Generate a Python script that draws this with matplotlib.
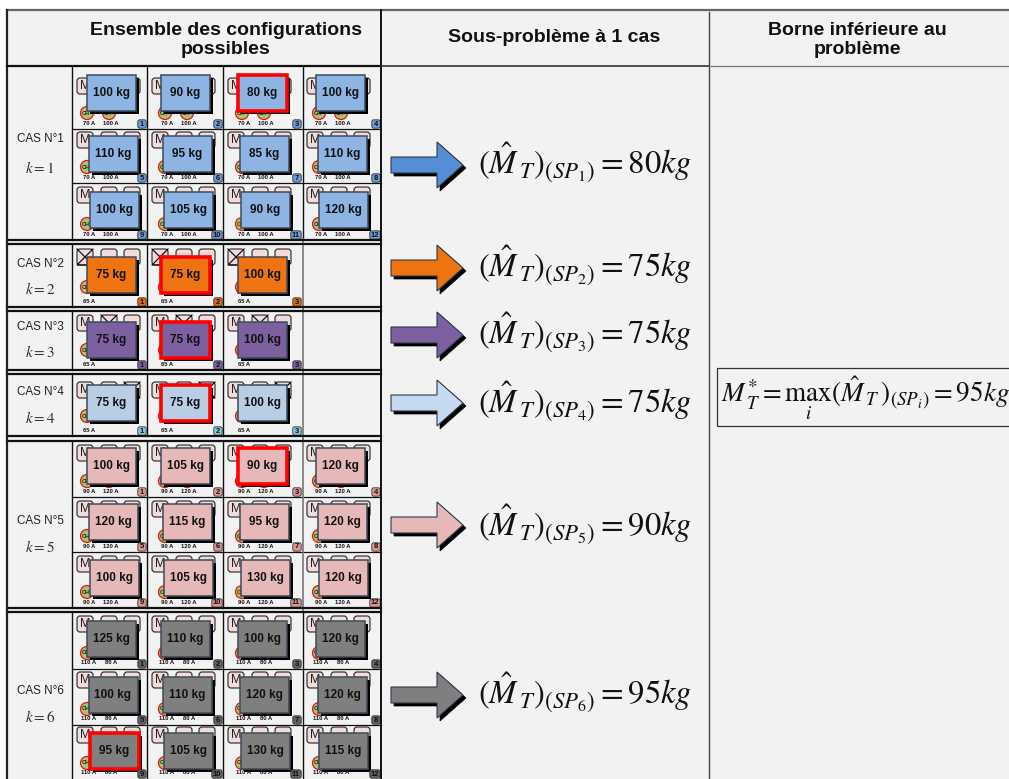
import matplotlib
matplotlib.use("Agg")
import matplotlib.pyplot as plt
from matplotlib.patches import Rectangle, FancyBboxPatch, Circle, Polygon

plt.rcParams['font.family'] = ['Liberation Sans', 'DejaVu Sans']
plt.rcParams['mathtext.fontset'] = 'stix'

# ---- data
case_names = ["CAS N°1", "CAS N°2", "CAS N°3", "CAS N°4", "CAS N°5", "CAS N°6"]
case_k = [1, 2, 3, 4, 5, 6]
weights_1 = [100, 90, 80, 100, 110, 95, 85, 110, 100, 105, 90, 120]
weights_2 = [75, 75, 100]
weights_3 = [75, 75, 100]
weights_4 = [75, 75, 100]
weights_5 = [100, 105, 90, 120, 120, 115, 95, 120, 100, 105, 130, 120]
weights_6 = [125, 110, 100, 120, 100, 110, 120, 120, 95, 105, 130, 115]
all_weights = [weights_1, weights_2, weights_3, weights_4, weights_5, weights_6]
currents = [("70 A", "100 A"), ("65 A",), ("65 A",), ("65 A",), ("90 A", "120 A"), ("110 A", "80 A")]
best_cell = [3, 2, 2, 2, 3, 9]
crossed_motor = [None, 0, 1, 2, None, None]
bounds = [80, 75, 75, 75, 90, 95]
lower_bound = 95
headers = ["Ensemble des configurations\npossibles", "Sous-problème à 1 cas", "Borne inférieure au\nproblème"]

# ---- styles / layout
box_col = ['#8EB4E3', '#ED7410', '#7D60A0', '#B9CDE5', '#E6B9B8', '#7F7F7F']
arrow_col = ['#558ED5', '#ED7410', '#7D60A0', '#C6D9F1', '#E6B9B8', '#7F7F7F']
badge_col = ['#6F9BD8', '#E46C0A', '#7D60A0', '#8CC6DC', '#D99694', '#636363']
row_edges = [[67, 129, 183, 240], [244, 307], [311, 370], [374, 436], [441, 497, 552, 608], [612, 669, 725, 779]]
row_box_offset = [[18, 11, 12], [14], [12], [15], [13, 12, 12], [12, 12, 10]]
motor_offset = [[3, -4, -5], [-8], [-7], [-3], [-3, -3, -4], [-5, -5, -6]]
col_x = [72, 147, 223, 302, 381]
col_dx = [15, 14, 15, 14]
circle_dx = [15, 18, 19, 17]
case_label_y = [(139, 168), (264, 289), (327, 352), (392, 418), (521, 547), (691, 717)]
arrow_y = [165, 268, 335, 403, 525, 695]
eq_y = [163, 266, 333, 402, 525, 693]

fig = plt.figure(figsize=(10.09, 7.79), dpi=100, facecolor='white')
ax = fig.add_axes([0, 0, 1, 1])
ax.set_xlim(0, 1009)
ax.set_ylim(779, 0)
ax.axis('off')

ax.add_patch(Rectangle((7, 10), 1002, 769, fc='#F2F2F2', ec='none', zorder=0))


def draw_cell(x0, y0, x1, y1, weight, number, case, cur, red, col, box_off, mot_off, col_idx, row_idx):
    dx = col_dx[col_idx] + 1.5 * row_idx
    bw, bh = 49, 36
    bx, by = x0 + dx, y1 - box_off - bh
    # motors
    for m, mx in enumerate((5, 29, 52)):
        my = by + mot_off
        ax.add_patch(FancyBboxPatch((x0 + mx + 1.5, my + 1.5), 13, 13, boxstyle="round,pad=1.5,rounding_size=3",
                                    fc='#F2DCDB', ec='#222222', lw=0.8, zorder=2))
        if m == crossed_motor[case]:
            ax.plot([x0 + mx, x0 + mx + 16, x0 + mx, x0 + mx + 16], [my, my + 16, my + 16, my],
                    color='#111111', lw=0.9, zorder=2.1)
        elif m == 0:
            ax.text(x0 + mx + 8, my + 8, "M", fontsize=9, ha='center', va='center', color='#222222', zorder=2.2)
    # converters
    cdx = circle_dx[col_idx]
    cy = y1 - 16 if len(cur) == 2 else y1 - 20
    for c in range(len(cur)):
        cx = x0 + cdx + 22 * c
        ax.add_patch(Circle((cx, cy), 6.5, fc='#A9C46E', ec='#EE1111', lw=0.9, zorder=2))
        ax.text(cx - 1, cy, "CH", fontsize=4, fontweight='bold', ha='center', va='center',
                color='#222222', zorder=2.2)
    # main box with shadow
    ax.add_patch(Rectangle((bx + 3, by + 3), bw, bh, fc='black', ec='none', zorder=3))
    ax.add_patch(Rectangle((bx, by), bw, bh, fc=col,
                           ec='#FF0000' if red else '#3F4A5A', lw=2.6 if red else 1.1, zorder=4))
    ax.text(bx + bw / 2, by + bh / 2, f"{weight} kg", fontsize=8.5, fontweight='bold',
            ha='center', va='center', color='#111111', zorder=5)
    # currents
    for c, label in enumerate(cur):
        ax.text(x0 + cdx + 2 + 22 * c, y1 - 6, label, fontsize=4.2, fontweight='bold', ha='center', va='center',
                color='#111111', zorder=5)
    # badge
    extra = 2 if number >= 10 else 0
    ax.add_patch(FancyBboxPatch((x1 - 8 - extra, y1 - 8), 6 + extra, 6, boxstyle="round,pad=1.2,rounding_size=2",
                                fc=badge_col[case], ec='#333333', lw=0.6, zorder=9))
    ax.text(x1 - 5 - extra / 2, y1 - 5, str(number), fontsize=5.5, fontweight='bold', ha='center', va='center',
            color='#111111', zorder=9.5)


for case, ws in enumerate(all_weights):
    edges = row_edges[case]
    n = 0
    for r in range(len(edges) - 1):
        per_row = 4 if len(ws) == 12 else 3
        for c in range(per_row):
            n += 1
            draw_cell(col_x[c], edges[r], col_x[c + 1], edges[r + 1], ws[n - 1], n, case,
                      currents[case], n == best_cell[case], box_col[case],
                      row_box_offset[case][r], motor_offset[case][r], c, r)
    for y in edges[1:-1]:
        ax.plot([72, 381], [y, y], color='#111111', lw=0.9, zorder=8)
    for x in col_x[:3]:
        ax.plot([x, x], [edges[0], edges[-1]], color='#111111', lw=1.0, zorder=8)
    grey = case in (1, 2, 3, 4)
    ax.plot([302.5, 302.5], [edges[0] - 5 if grey else edges[0], edges[-1] + 4 if grey else edges[-1]],
            color='#777777' if grey else '#111111', lw=1.2 if grey else 1.0, zorder=8)
    # case title
    ly, ky = case_label_y[case]
    ax.text(40, ly, case_names[case], fontsize=8.4, ha='center', va='center', color='#222222', zorder=9)
    ax.text(40, ky, f"$k={case_k[case]}$", fontsize=11, ha='center', va='center', color='#333333', zorder=9)
    # arrow
    ay = arrow_y[case]
    pts = [(391, ay - 8), (437, ay - 8), (437, ay - 23), (463, ay), (437, ay + 23), (437, ay + 8), (391, ay + 8)]
    ax.add_patch(Polygon([(a + 3, b + 3) for a, b in pts], fc='black', ec='black', lw=0.5, zorder=3))
    ax.add_patch(Polygon(pts, fc=arrow_col[case], ec='#2F3A4A', lw=0.8, zorder=4))
    # equation
    ax.text(478, eq_y[case], rf"$(\hat{{M}}_{{\,T}})_{{(SP_{{{case + 1}}})}}={bounds[case]}kg$",
            fontsize=23.5, ha='left', va='center', color='#111111', zorder=9)

# double separators between cases
for y in (240, 244, 307, 311, 370, 374, 436, 441, 608, 612):
    ax.plot([7, 381], [y, y], color='#111111', lw=1.6, zorder=10)

# table frame
ax.plot([7, 1009], [9.5, 9.5], color='#666666', lw=1.6, zorder=10)
ax.plot([7, 7], [10, 779], color='#222222', lw=1.6, zorder=10)
ax.plot([381, 381], [10, 779], color='#111111', lw=1.4, zorder=10)
ax.plot([709, 709], [12, 779], color='#444444', lw=1.0, zorder=10)
ax.plot([7, 381], [66, 66], color='#111111', lw=1.6, zorder=10)
ax.plot([381, 709], [66, 66], color='#333333', lw=1.2, zorder=10)
ax.plot([709, 1009], [66, 66], color='#777777', lw=0.9, zorder=10)

# headers
ax.text(226, 40, headers[0], fontsize=14, fontweight='bold', ha='center', va='center', color='#111111', linespacing=1.1)
ax.text(554, 37, headers[1], fontsize=14, fontweight='bold', ha='center', va='center', color='#111111')
ax.text(857, 40, headers[2], fontsize=14, fontweight='bold', ha='center', va='center', color='#111111', linespacing=1.1)

# lower bound
ax.add_patch(Rectangle((717, 368), 300, 57.5, fc='#F2F2F2', ec='#333333', lw=0.9, zorder=5))
ax.text(721, 402, rf"$M_{{\,T}}^{{*}}=\max_{{i}}(\hat{{M}}_{{\,T}})_{{(SP_{{i}})}}={lower_bound}kg$",
        fontsize=19.5, ha='left', va='baseline', color='#111111', zorder=6)

fig.savefig("out.png", dpi=100, facecolor='white')
